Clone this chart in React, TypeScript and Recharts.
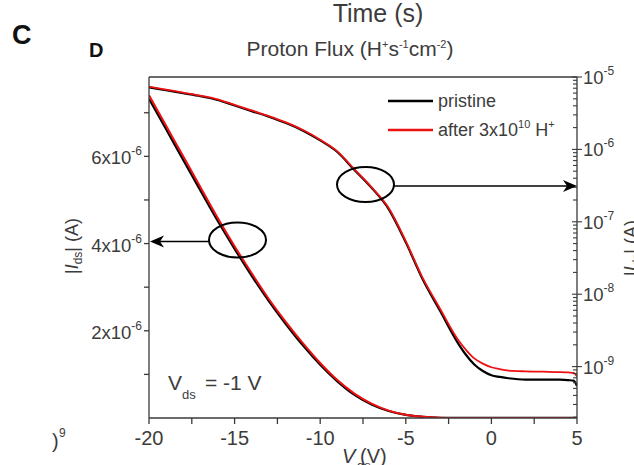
import React from 'react';
import { ComposedChart, Line, XAxis, YAxis } from 'recharts';

const FONT = '"Liberation Sans", Arial, Helvetica, sans-serif';
const AXIS = '#3a3a3a';
const TEXT = '#3c3c3c';
const RED = '#ee1111';

// ---- data ----
// Gate voltage (V) for the linear-scale |Ids| curves (left axis)
const vgsLinear = [-20, -19, -18, -17, -16, -15, -14, -13, -12, -11, -10, -9, -8, -7, -6, -5, -4, -3, -2, -1, 0, 1, 2, 3, 4, 5];
const pristineLinear = [7.32e-6, 6.62e-6, 5.92e-6, 5.22e-6, 4.53e-6, 3.88e-6, 3.26e-6, 2.68e-6, 2.15e-6, 1.66e-6, 1.22e-6, 8.4e-7, 5.3e-7, 3.1e-7, 1.6e-7, 7e-8, 2.5e-8, 6e-9, 2.2e-9, 1.1e-9, 8e-10, 7e-10, 7e-10, 7e-10, 7e-10, 6e-10];
const afterLinear = [7.4e-6, 6.7e-6, 6.0e-6, 5.3e-6, 4.6e-6, 3.94e-6, 3.32e-6, 2.73e-6, 2.2e-6, 1.71e-6, 1.26e-6, 8.7e-7, 5.6e-7, 3.3e-7, 1.7e-7, 7.5e-8, 3e-8, 8e-9, 2.4e-9, 1.3e-9, 1e-9, 9e-10, 9e-10, 8.5e-10, 8.4e-10, 7.3e-10];

// Gate voltage (V) for the log-scale |Ids| curves (right axis)
const vgsLog = [-20, -19, -18, -17, -16, -15, -14, -13, -12, -11, -10, -9, -8, -7, -6, -5, -4, -3, -2, -1.5, -1, -0.5, 0, 0.5, 1, 2, 3, 4, 4.5, 4.8, 5];
const pristineLog = [7.21e-6, 6.56e-6, 5.97e-6, 5.43e-6, 4.82e-6, 4.04e-6, 3.38e-6, 2.83e-6, 2.31e-6, 1.81e-6, 1.33e-6, 9.2e-7, 5.2e-7, 2.95e-7, 1.5e-7, 5.2e-8, 1.58e-8, 5.9e-9, 2.2e-9, 1.47e-9, 1.07e-9, 8.7e-10, 7.6e-10, 7.2e-10, 6.9e-10, 6.6e-10, 6.6e-10, 6.6e-10, 6.5e-10, 6.4e-10, 5.4e-10];
const afterLog = [7.35e-6, 6.69e-6, 6.09e-6, 5.54e-6, 4.92e-6, 4.12e-6, 3.45e-6, 2.89e-6, 2.36e-6, 1.85e-6, 1.36e-6, 9.4e-7, 5.3e-7, 3.0e-7, 1.55e-7, 5.4e-8, 1.65e-8, 6.3e-9, 2.45e-9, 1.72e-9, 1.3e-9, 1.1e-9, 9.8e-10, 9.2e-10, 8.8e-10, 8.6e-10, 8.5e-10, 8.4e-10, 8.3e-10, 8.2e-10, 7.3e-10];

// ---- axes ----
const xDomain = [-20, 5];
const xTicks = [-20, -17.5, -15, -12.5, -10, -7.5, -5, -2.5, 0, 2.5, 5];
const xLabelled = [-20, -15, -10, -5, 0, 5];

const linDomain = [0, 7.82e-6];
const linTicks = [1e-6, 2e-6, 3e-6, 4e-6, 5e-6, 6e-6, 7e-6];
const linLabelled = [2, 4, 6];
const linExponent = -6;

const logDomain = [1.95e-10, 1e-5];
const logDecades = [-10, -9, -8, -7, -6];
const logMultipliers = [1, 2, 3, 4, 5, 6, 7, 8, 9];
const logTicks: number[] = [];
logDecades.forEach((d) =>
  logMultipliers.forEach((m) => {
    const v = m * Math.pow(10, d);
    if (v >= logDomain[0] && v <= logDomain[1]) logTicks.push(v);
  })
);
logTicks.push(1e-5);

const toPoints = (xs: number[], ys: number[]) => xs.map((v, i) => ({ v, i: ys[i] }));

const BottomTick = (props: any) => {
  const { x, y, payload } = props;
  const v = payload.value;
  const labelled = xLabelled.indexOf(v) >= 0;
  return (
    <g>
      <line x1={x} x2={x} y1={y} y2={y + 6} stroke={AXIS} strokeWidth={1.3} />
      {labelled && (
        <text x={x} y={y + 27} textAnchor="middle" fontSize={20} fill={TEXT} fontFamily={FONT}>
          {String(v)}
        </text>
      )}
    </g>
  );
};

const LinTick = (props: any) => {
  const { x, y, payload } = props;
  const m = Math.round(payload.value / 1e-6);
  const labelled = linLabelled.indexOf(m) >= 0;
  return (
    <g>
      <line x1={x - 5} x2={x} y1={y} y2={y} stroke={AXIS} strokeWidth={1.3} />
      {labelled && (
        <text x={x - 7} y={y + 8} textAnchor="end" fontSize={18.5} fill={TEXT} fontFamily={FONT}>
          <tspan>{m}x10</tspan>
          <tspan dy={-9} fontSize={12}>{String(linExponent)}</tspan>
        </text>
      )}
    </g>
  );
};

const LogTick = (props: any) => {
  const { x, y, payload } = props;
  const e = Math.log10(payload.value);
  const major = Math.abs(e - Math.round(e)) < 1e-6;
  return (
    <g>
      <line x1={x - (major ? 5 : 4)} x2={x + (major ? 5 : 0)} y1={y} y2={y} stroke={AXIS} strokeWidth={1.1} />
      {major && (
        <text x={x + 6} y={y + 7} fontSize={18.5} fill={TEXT} fontFamily={FONT}>
          <tspan>10</tspan>
          <tspan dy={-9} fontSize={12}>{String(Math.round(e))}</tspan>
        </text>
      )}
    </g>
  );
};

const Overlay = () => (
  <svg width={634} height={465} style={{ position: 'absolute', left: 0, top: 0, pointerEvents: 'none' }}>
    <g fontFamily={FONT} fill={TEXT}>
      {/* frame top */}
      <line x1={149} x2={577} y1={77} y2={77} stroke={AXIS} strokeWidth={1.3} />
      <text x={12} y={44} fontSize={27} fontWeight="bold" fill="#111">C</text>
      <text x={378} y={22} fontSize={25} textAnchor="middle">Time (s)</text>
      <text x={89} y={57} fontSize={20} fontWeight="bold" fill="#111">D</text>
      <text x={350} y={56} fontSize={21} textAnchor="middle">
        <tspan>Proton Flux (H</tspan>
        <tspan dy={-8} fontSize={11}>+</tspan>
        <tspan dy={8}>s</tspan>
        <tspan dy={-8} fontSize={11}>-1</tspan>
        <tspan dy={8}>cm</tspan>
        <tspan dy={-8} fontSize={11}>-2</tspan>
        <tspan dy={8}>)</tspan>
      </text>
      <text x={52} y={448} fontSize={20}>)</text>
      <text x={59} y={437} fontSize={12}>9</text>

      {/* legend */}
      <line x1={388} x2={433} y1={101} y2={101} stroke="#000" strokeWidth={2.5} />
      <text x={438} y={107} fontSize={18}>pristine</text>
      <line x1={388} x2={433} y1={130} y2={130} stroke={RED} strokeWidth={2.5} />
      <text x={438} y={136} fontSize={18}>
        <tspan>after 3x10</tspan>
        <tspan dy={-8} fontSize={11}>10</tspan>
        <tspan dy={8}> H</tspan>
        <tspan dy={-8} fontSize={11}>+</tspan>
      </text>

      {/* Vds annotation */}
      <text x={168} y={390} fontSize={21}>V</text>
      <text x={182} y={399} fontSize={13}>ds</text>
      <text x={205} y={390} fontSize={21}>= -1 V</text>

      {/* axis titles */}
      <text transform="translate(78,246) rotate(-90)" textAnchor="middle" fontSize={18}>
        <tspan>|</tspan>
        <tspan fontStyle="italic">I</tspan>
        <tspan dy={4} fontSize={12}>ds</tspan>
        <tspan dy={-4}>| (A)</tspan>
      </text>
      <text transform="translate(637,248) rotate(-90)" textAnchor="middle" fontSize={18}>
        <tspan>|</tspan>
        <tspan fontStyle="italic">I</tspan>
        <tspan dy={4} fontSize={12}>ds</tspan>
        <tspan dy={-4}>| (A)</tspan>
      </text>
      <text x={342} y={463} fontSize={20} fontStyle="italic">V</text>
      <text x={360} y={463} fontSize={20}>(V)</text>
      <text x={357} y={470} fontSize={13}>gs</text>

      {/* ellipses and arrows */}
      <ellipse cx={365.5} cy={184.5} rx={28.5} ry={17.5} fill="none" stroke="#000" strokeWidth={2} />
      <line x1={394} x2={570} y1={186} y2={186} stroke="#000" strokeWidth={1.5} />
      <path d="M577,186 L563,180 L567,186 L563,192 Z" fill="#000" />
      <ellipse cx={237.5} cy={240} rx={28.5} ry={17.5} fill="none" stroke="#000" strokeWidth={2} />
      <line x1={209} x2={157} y1={241.5} y2={241.5} stroke="#000" strokeWidth={1.5} />
      <path d="M150,241.5 L164,235.5 L160,241.5 L164,247.5 Z" fill="#000" />
    </g>
  </svg>
);

export default function App() {
  return (
    <div style={{ position: 'absolute', left: 0, top: 0, width: 634, height: 465, background: '#fff' }}>
      <ComposedChart width={634} height={465} margin={{ top: 77, right: 0, bottom: 0, left: 0 }}>
        <XAxis
          xAxisId="x"
          dataKey="v"
          type="number"
          domain={xDomain}
          ticks={xTicks}
          interval={0}
          allowDataOverflow
          height={47}
          tickSize={0}
          tickMargin={0}
          tickLine={false}
          axisLine={{ stroke: AXIS, strokeWidth: 1.3 }}
          tick={<BottomTick />}
        />
        <YAxis
          yAxisId="lin"
          orientation="left"
          type="number"
          domain={linDomain}
          ticks={linTicks}
          interval={0}
          allowDataOverflow
          width={149}
          tickSize={0}
          tickMargin={0}
          tickLine={false}
          axisLine={{ stroke: AXIS, strokeWidth: 1.3 }}
          tick={<LinTick />}
        />
        <YAxis
          yAxisId="log"
          orientation="right"
          type="number"
          scale="log"
          domain={logDomain}
          ticks={logTicks}
          interval={0}
          allowDataOverflow
          width={57}
          tickSize={0}
          tickMargin={0}
          tickLine={false}
          axisLine={{ stroke: AXIS, strokeWidth: 1.3 }}
          tick={<LogTick />}
        />
        <Line data={toPoints(vgsLinear, pristineLinear)} dataKey="i" xAxisId="x" yAxisId="lin" type="monotone" stroke="#000" strokeWidth={2.2} dot={false} isAnimationActive={false} />
        <Line data={toPoints(vgsLinear, afterLinear)} dataKey="i" xAxisId="x" yAxisId="lin" type="monotone" stroke={RED} strokeWidth={2} dot={false} isAnimationActive={false} />
        <Line data={toPoints(vgsLog, pristineLog)} dataKey="i" xAxisId="x" yAxisId="log" type="monotone" stroke="#000" strokeWidth={2.2} dot={false} isAnimationActive={false} />
        <Line data={toPoints(vgsLog, afterLog)} dataKey="i" xAxisId="x" yAxisId="log" type="monotone" stroke={RED} strokeWidth={1.8} dot={false} isAnimationActive={false} />
      </ComposedChart>
      <Overlay />
    </div>
  );
}
